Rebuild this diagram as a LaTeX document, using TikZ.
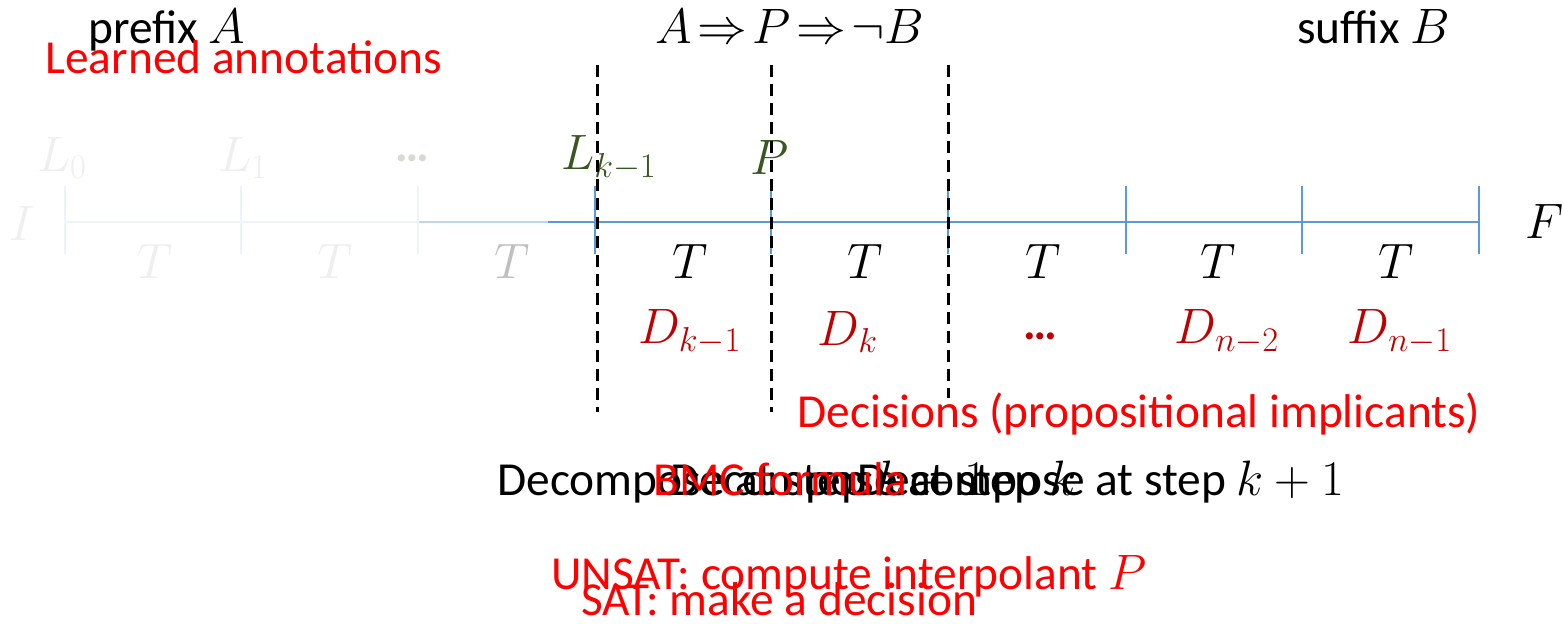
\documentclass[tikz,border=0pt]{standalone}
\usepackage{fontspec}
\setmainfont{Carlito}
\usepackage{tikz}
\usetikzlibrary{positioning}
\definecolor{lineBlue}{HTML}{5B9BD5}
\definecolor{lineFade}{HTML}{BDD7EE}
\definecolor{lineGhost}{HTML}{EEF3F9}
\definecolor{ghostGray}{HTML}{EFEFEF}
\definecolor{midGray}{HTML}{BFBFBF}
\definecolor{dotsGray}{HTML}{D5DBD0}
\definecolor{lemmaGreen}{HTML}{385723}
\definecolor{decRed}{HTML}{C00000}
\definecolor{noteRed}{HTML}{FF0000}

\begin{document}
\begin{tikzpicture}[x=0.5pt, y=-0.5pt,
  font=\fontsize{23.7}{28}\selectfont,
  txt/.style={inner sep=0pt, anchor=base west},
  mth/.style={inner sep=0pt, anchor=center},
  note/.style={txt, text=noteRed},
  tickmark/.style={line width=1pt},
  cut/.style={draw=black, line width=1.5pt, dash pattern=on 6pt off 3.5pt},
]
  \useasboundingbox (0,0) rectangle (1564,624);

  % headline texts
  \node[txt] (prefA) at (88,44) {prefix $A$};
  \node[note] (learned) at (45,74) {Learned annotations};
  \node[txt] (chain) at (655,44) {$A \!\Rightarrow\! P \!\Rightarrow\! \neg B$};
  \node[txt] (suffB) at (1297,44) {suffix $B$};

  % time frames
  \foreach \i/\x in {0/65,1/241,2/418,3/595,4/771,5/948,6/1126,7/1302,8/1479}
    \coordinate (t\i) at (\x,222);
  \coordinate (fade) at (548,222);
  \draw[lineGhost, line width=1pt] (t0) -- (t2);
  \draw[lineFade, line width=1pt] (t2) -- (fade);
  \draw[lineBlue, line width=1pt] (fade) -- (t8);
  \foreach \i in {0,1,2}
    \draw[tickmark, lineGhost] ([yshift=-16]t\i) -- ([yshift=18]t\i);
  \foreach \i in {3,...,8}
    \draw[tickmark, lineBlue] ([yshift=-16]t\i) -- ([yshift=18]t\i);

  \node[mth, text=ghostGray] (init) at (22,224) {$I$};
  \node[mth] (fin) at (1545,222) {$F$};

  % lemmas over the frames
  \node[mth, text=ghostGray] (lzero) at (62,158) {$L_0$};
  \node[mth, text=ghostGray] (lone) at (243,158) {$L_1$};
  \node[mth, text=dotsGray] (ldots) at (412,158) {\textbf{\dots}};
  \node[mth, text=lemmaGreen] (lkm) at (609,158) {$L_{k-1}$};
  \node[mth, text=lemmaGreen] (interp) at (770,158) {$P$};

  % transitions
  \foreach \n/\x/\c in {1/155/ghostGray,2/335/ghostGray,3/512/midGray,4/690/black,
                        5/865/black,6/1043/black,7/1218/black,8/1396/black}
    \node[mth, text=\c] (tr\n) at (\x,262) {$T$};

  % decisions
  \node[mth, text=decRed] (dkm) at (690,332) {$D_{k-1}$};
  \node[mth, text=decRed] (dk) at (848,332) {$D_k$};
  \node[mth, text=decRed] (ddots) at (1040,336) {\textbf{\dots}};
  \node[mth, text=decRed] (dnb) at (1227,332) {$D_{n-2}$};
  \node[mth, text=decRed] (dna) at (1400,332) {$D_{n-1}$};

  % cut lines
  \foreach \j/\x/\e in {a/597/412,b/771/412,c/948/398}{
    \coordinate (\j top) at (\x,65);
    \coordinate (\j bot) at (\x,\e);
    \draw[cut] (\j top) -- (\j bot);}

  \node[note] (decisions) at (797,428) {Decisions (propositional implicants)};

  % overlaid build steps
  \node[txt] (decA) at (497,496) {Decompose at step $k-1$};
  \node[txt] (decB) at (670,496) {Decompose at step $k$};
  \node[txt] (decC) at (857,496) {Decompose at step $k+1$};
  \node[note] (bmc) at (653,496) {BMC formula};

  \node[note] (unsat) at (551,590) {UNSAT: compute interpolant $P$};
  \node[note] (sat) at (581,616) {SAT: make a decision};
\end{tikzpicture}
\end{document}
